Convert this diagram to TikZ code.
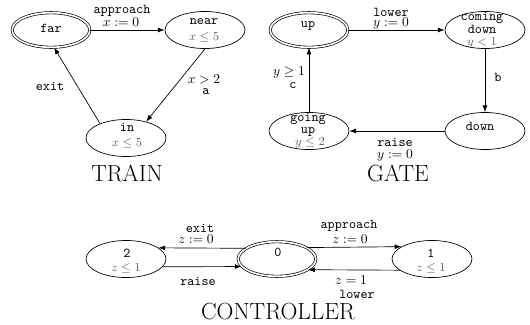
\documentclass[tikz,border=0pt]{standalone}
\usetikzlibrary{arrows.meta,shapes.geometric}
\begin{document}
\begin{tikzpicture}[x=0.74pt,y=-0.74pt,
  loc/.style={ellipse,draw,line width=0.5pt,inner sep=0pt,
    minimum width=59.2pt,minimum height=27.4pt},
  initloc/.style={loc,double,double distance=1.2pt,
    minimum width=57.4pt,minimum height=25.6pt},
  trans/.style={line width=0.5pt,-{Latex[length=5pt,width=3.6pt]}},
  nm/.style={font=\ttfamily,inner sep=0pt},
  inv/.style={font=\small,text=black!62,inner sep=0pt},
  lab/.style={inner sep=0pt},
  title/.style={font=\LARGE,inner sep=0pt}]
\useasboundingbox (0,0) rectangle (530,324);

% ---------------- TRAIN ----------------
\node[initloc] (far)  at (51,30)  {};
\node[loc]     (near) at (205,30) {};
\node[loc]     (in)   at (126,138) {};
\node[nm] (farname) at (51,28) {far};
\node[nm] (nearname) at (204,22) {near};
\node[inv] (nearinv) at (204,37) {$x \le 5$};
\node[nm] (inname) at (127,127) {in};
\node[inv] (ininv) at (127,143) {$x \le 5$};

\draw[trans] (far.east) -- (near.west);
\draw[trans] (near.south) -- (in.39);
\draw[trans] (in.151) -- (far.-80);

\node[nm] (tapp) at (122,11) {approach};
\node[lab] (tassx) at (121,22.5) {$x := 0$};
\node[lab] (tguard) at (204,79) {$x > 2$};
\node[nm] (ta) at (206,92) {a};
\node[nm] (texit) at (50,86) {exit};
\node[title] (train) at (127,173) {TRAIN};

% ---------------- GATE ----------------
\node[initloc] (up)   at (309,30)  {};
\node[loc]     (cd)   at (485,30)  {};
\node[loc]     (down) at (485,131) {};
\node[loc]     (gu)   at (309,131) {};
\node[nm] (upname) at (308,26) {up};
\node[nm,align=center] (cdname) at (482,23) {coming\\[-3pt]down};
\node[inv] (cdinv) at (482,43) {$y < 1$};
\node[nm] (downname) at (480,126) {down};
\node[nm,align=center] (guname) at (308,125) {going\\[-3pt]up};
\node[inv] (guinv) at (310,143) {$y \le 2$};

\draw[trans] (up.east) -- (cd.west);
\draw[trans] (cd.south) -- (down.north);
\draw[trans] (down.west) -- (gu.east);
\draw[trans] (gu.north) -- (up.south);

\node[nm] (glower) at (391,12) {lower};
\node[lab] (gassy1) at (391,23.5) {$y := 0$};
\node[nm] (gb) at (498,77) {b};
\node[nm] (graise) at (395,142) {raise};
\node[lab] (gassy2) at (395,155) {$y := 0$};
\node[lab] (gguard) at (289,72) {$y \ge 1$};
\node[nm] (gc) at (293,86) {c};
\node[title] (gate) at (398,173) {GATE};

% ---------------- CONTROLLER ----------------
\node[loc]     (c2) at (126,259) {};
\node[initloc] (c0) at (277,259) {};
\node[loc]     (c1) at (432,259) {};
\node[nm] (c2name) at (127,253) {2};
\node[inv] (c2inv) at (126,268) {$z \le 1$};
\node[nm] (c0name) at (278,252) {0};
\node[nm] (c1name) at (431,253) {1};
\node[inv] (c1inv) at (431,268) {$z \le 1$};

\draw[trans] (c0.161) -- (c2.19);
\draw[trans] (c2.-12.5) -- (c0.192.5);
\draw[trans] (c0.21.5) -- (c1.158.5);
\draw[trans] (c1.199) -- (c0.-19);

\node[nm] (cexit) at (200,228) {exit};
\node[lab] (cassz1) at (196,239) {$z := 0$};
\node[nm] (craise) at (198,281) {raise};
\node[nm] (capp) at (349,226) {approach};
\node[lab] (cassz2) at (350,239) {$z := 0$};
\node[lab] (cguard) at (351,280) {$z = 1$};
\node[nm] (clower) at (357,294) {lower};
\node[title] (ctrl) at (278,312) {CONTROLLER};
\end{tikzpicture}
\end{document}
